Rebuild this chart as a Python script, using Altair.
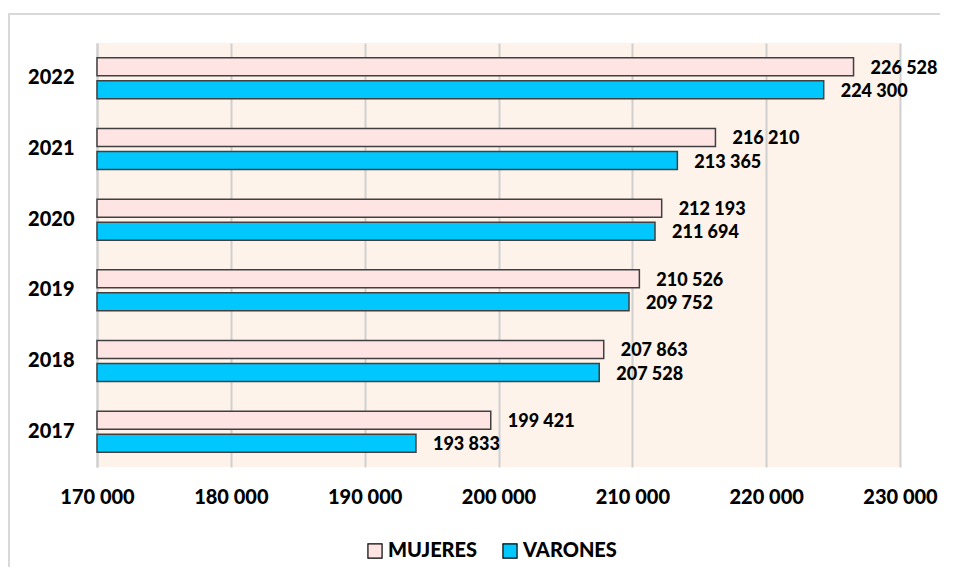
import altair as alt
import pandas as pd

years = ["2022", "2021", "2020", "2019", "2018", "2017"]
mujeres = [226528, 216210, 212193, 210526, 207863, 199421]
varones = [224300, 213365, 211694, 209752, 207528, 193833]
series = ["MUJERES", "VARONES"]
colors = ["#ffe4e4", "#00c8ff"]
x_ticks = [170000, 180000, 190000, 200000, 210000, 220000, 230000]
x_min, x_max = 170000, 230000

rows = []
for y, m, v in zip(years, mujeres, varones):
    rows.append({"year": y, "sexo": "MUJERES", "valor": m})
    rows.append({"year": y, "sexo": "VARONES", "valor": v})
df = pd.DataFrame(rows)
df["label"] = df["valor"].map(lambda n: f"{n:,}".replace(",", " "))
df["base"] = x_min

FONT = "Lato"
xscale = alt.Scale(domain=[x_min, x_max], nice=False, zero=False)
yscale = alt.Scale(paddingInner=0.42, paddingOuter=0.21)
oscale = alt.Scale(paddingInner=0.22)

y_enc = alt.Y("year:N", sort=years, title=None, scale=yscale,
              axis=alt.Axis(labelFont=FONT, labelFontSize=20, labelFontWeight=900,
                            labelColor="#000000", labelPadding=23, ticks=False,
                            domain=True, domainColor="#d0d0d0", domainWidth=2))
yoff = alt.YOffset("sexo:N", sort=series, scale=oscale)
x_enc = alt.X("valor:Q", title=None, scale=xscale,
              axis=alt.Axis(values=x_ticks, labelFont=FONT, labelFontSize=20,
                            labelFontWeight=900, labelColor="#000000",
                            labelPadding=20, ticks=False, domain=False,
                            labelFlush=False, labelOverlap=False, labelBound=False,
                            grid=True, gridColor="#d0d0d0", gridWidth=2,
                            labelExpr="replace(format(datum.value, ',d'), /,/g, ' ')"))

base = alt.Chart(df)

bars = base.mark_bar(stroke="#404040", strokeWidth=1.5).encode(
    y=y_enc, yOffset=yoff, x=x_enc, x2="base:Q",
    color=alt.Color("sexo:N", sort=series,
                    scale=alt.Scale(domain=series, range=colors),
                    legend=alt.Legend(title=None, orient="none", direction="horizontal",
                                      legendX=268, legendY=498,
                                      symbolType="square", symbolSize=200,
                                      symbolStrokeColor="#000000", symbolStrokeWidth=1.2,
                                      labelFont=FONT, labelFontSize=20,
                                      labelFontWeight=900, labelColor="#000000",
                                      columnPadding=22, labelOffset=3)),
)

labels = base.mark_text(align="left", baseline="middle", dx=17, dy=2,
                        font=FONT, fontSize=18, fontWeight=900, color="#000000").encode(
    y=alt.Y("year:N", sort=years, scale=yscale),
    yOffset=alt.YOffset("sexo:N", sort=series, scale=oscale),
    x=alt.X("valor:Q", scale=xscale), text="label:N",
)

frame = alt.Chart(pd.DataFrame({"a": [0]})).mark_rect(
    fill=None, stroke="#d9d9d9", strokeWidth=2, clip=False
).encode(x=alt.value(-88), x2=alt.value(880), y=alt.value(-29), y2=alt.value(560))

chart = alt.layer(frame, bars, labels).properties(
    width=803, height=424,
    padding={"left": 89, "top": 35, "right": 40, "bottom": 100},
    autosize=alt.AutoSizeParams(type="none"),
    background="#ffffff",
).configure_view(fill="#fdf3ea", stroke=None)

chart.save("out.html", embed_options={"renderer": "svg", "actions": False})
